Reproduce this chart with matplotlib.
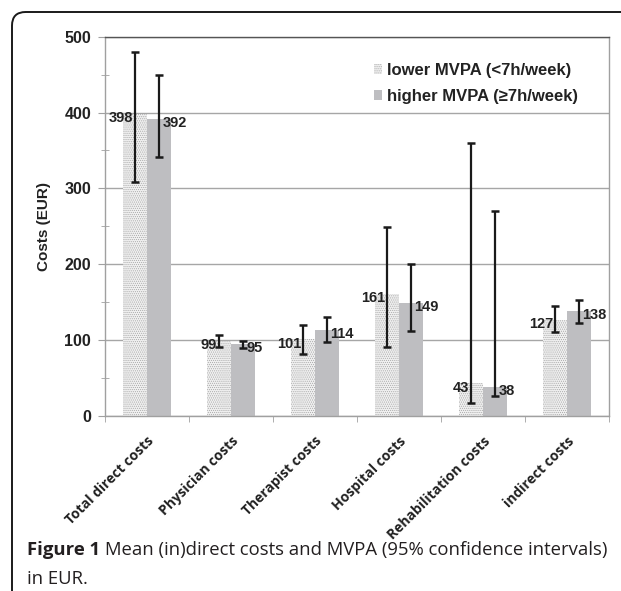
import numpy as np
import matplotlib
matplotlib.use("Agg")
import matplotlib.pyplot as plt
from matplotlib.patches import FancyBboxPatch, Patch
from matplotlib.ticker import MultipleLocator, FixedLocator

categories = ["Total direct costs", "Physician costs", "Therapist costs",
              "Hospital costs", "Rehabilitation costs", "indirect costs"]
lower_vals = [398, 99, 101, 161, 43, 127]
lower_ci_lo = [308, 91, 82, 91, 17, 111]
lower_ci_hi = [480, 107, 120, 249, 360, 145]
higher_vals = [392, 95, 114, 149, 38, 138]
higher_ci_lo = [342, 90, 98, 112, 26, 123]
higher_ci_hi = [449, 99, 131, 201, 270, 153]
series_labels = ["lower MVPA (<7h/week)", "higher MVPA (\u22657h/week)"]
y_ticks = [0, 100, 200, 300, 400, 500]

W, H = 621, 591
fig = plt.figure(figsize=(W / 100, H / 100), dpi=100)
ax = fig.add_axes([105 / W, 1 - 416 / H, (609 - 105) / W, (416 - 36.7) / H])

x = np.arange(len(categories))
bw = 0.286
plt.rcParams['hatch.linewidth'] = 0.5

lo = np.array(lower_vals)
hi = np.array(higher_vals)
ax.bar(x - bw / 2, lo, bw, facecolor="#f0f0f0", edgecolor="#a8a8a8",
       hatch="........", linewidth=0, zorder=2)
ax.bar(x + bw / 2, hi, bw, facecolor="#bebec1", edgecolor="none", linewidth=0, zorder=2)

ax.errorbar(x - bw / 2, lo, yerr=[lo - np.array(lower_ci_lo), np.array(lower_ci_hi) - lo],
            fmt="none", ecolor="#1a1a1a", elinewidth=1.6, capsize=3, capthick=1.8, zorder=4)
ax.errorbar(x + bw / 2, hi, yerr=[hi - np.array(higher_ci_lo), np.array(higher_ci_hi) - hi],
            fmt="none", ecolor="#1a1a1a", elinewidth=1.6, capsize=3, capthick=1.8, zorder=4)

lab_font = dict(family="Liberation Sans", weight="bold", size=10.5, color="#222222")
for i in range(len(categories)):
    ax.annotate(str(lower_vals[i]), (x[i] - bw / 2, lower_vals[i]), xytext=(-1.5, -3),
                textcoords="offset points", ha="right", va="center", zorder=5, **lab_font)
    ax.annotate(str(higher_vals[i]), (x[i] + bw / 2, higher_vals[i]), xytext=(2.5, -3),
                textcoords="offset points", ha="left", va="center", zorder=5, **lab_font)

ax.set_xlim(-0.5, len(categories) - 0.5)
ax.set_ylim(0, 500)
ax.set_yticks(y_ticks)
ax.yaxis.set_minor_locator(MultipleLocator(50))
ax.grid(axis="y", which="major", color="#a6a6a6", linewidth=1.0, zorder=0)
ax.set_axisbelow(True)

for s in ["left", "right", "bottom"]:
    ax.spines[s].set_color("#a0a0a0")
    ax.spines[s].set_linewidth(1.0)
ax.spines["top"].set_color("#555555")
ax.spines["top"].set_linewidth(1.0)

ax.set_xticks(x)
ax.set_xticklabels(categories, rotation=45, ha="right", rotation_mode="anchor",
                   family="Open Sans", weight="bold", size=10, color="#222222")
ax.xaxis.set_minor_locator(FixedLocator(np.arange(-0.5, len(categories), 1.0)))
ax.tick_params(axis="x", which="major", length=0, pad=13)
ax.tick_params(axis="x", which="minor", length=4, color="#a0a0a0", direction="out")
ax.tick_params(axis="y", which="major", length=5, color="#a0a0a0", direction="out", pad=5)
ax.tick_params(axis="y", which="minor", length=6, color="#a0a0a0", direction="inout")
for t in ax.get_yticklabels():
    t.set_family("Liberation Sans")
    t.set_weight("bold")
    t.set_size(11.5)
    t.set_color("#222222")

ax.set_ylabel("Costs (EUR)", family="Liberation Sans", weight="bold", size=11, color="#222222")
ax.yaxis.set_label_coords(-0.107, 0.5)

handles = [Patch(facecolor="#f0f0f0", edgecolor="#a8a8a8", hatch="........", linewidth=0),
           Patch(facecolor="#bebec1", edgecolor="none")]
leg = ax.legend(handles, series_labels, loc="upper left",
                bbox_to_anchor=((374 - 105) / 504, (416 - 63) / 379.3),
                frameon=False, handlelength=0.5, handleheight=0.5, handletextpad=0.3,
                labelspacing=0.65, borderaxespad=0, borderpad=0,
                prop=dict(family="Liberation Sans", weight="bold", size=12))
for t in leg.get_texts():
    t.set_color("#222222")

# Outer rounded frame
frame = FancyBboxPatch((12 / W, -20 / H), (W + 40) / W, (H + 20 - 12) / H,
                       boxstyle="round,pad=0,rounding_size=0.022",
                       transform=fig.transFigure, facecolor="none", edgecolor="#1a1a1a",
                       linewidth=1.4, mutation_aspect=W / H, zorder=0)
fig.patches.append(frame)

# Caption
r = fig.canvas.get_renderer()
cap_size = 13.3
t1 = fig.text(27 / W, 1 - 555 / H, "Figure 1", family="Open Sans", weight="bold",
              size=cap_size, color="#231f20", va="baseline")
bb = t1.get_window_extent(renderer=r)
fig.text((bb.x1 + 5) / W, 1 - 555 / H, "Mean (in)direct costs and MVPA (95% confidence intervals)",
         family="Open Sans", size=cap_size, color="#231f20", va="baseline")
fig.text(27 / W, 1 - 584 / H, "in EUR.", family="Open Sans", size=cap_size, color="#231f20", va="baseline")

fig.savefig("out.png", dpi=100)
